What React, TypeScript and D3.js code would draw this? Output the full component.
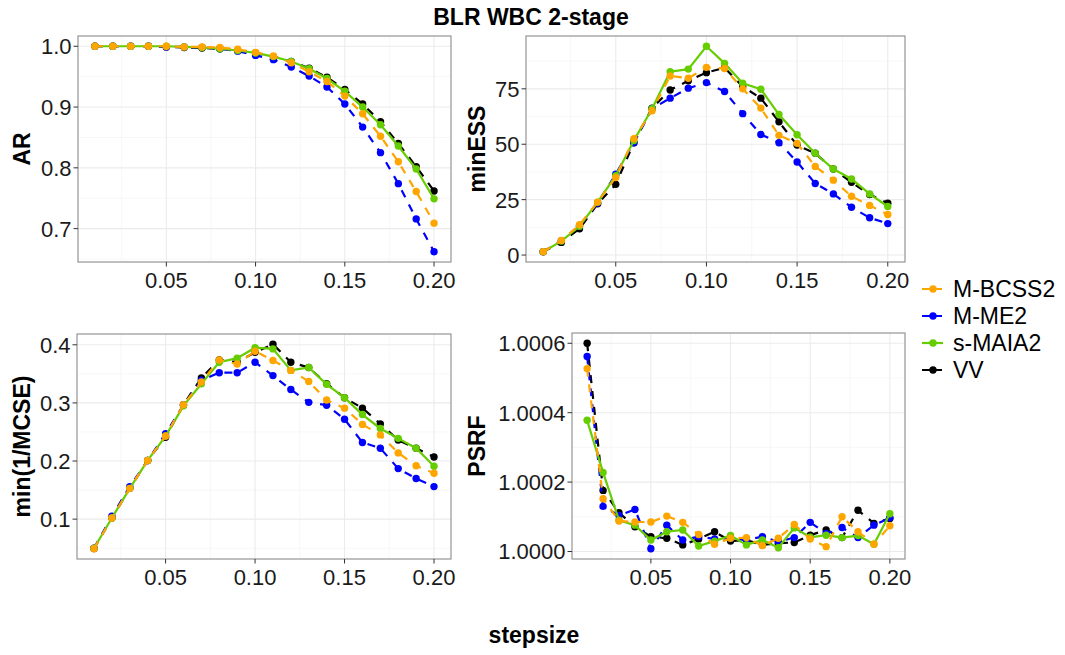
import React from 'react';
import * as d3 from 'd3';

// ---------- data ----------
const stepsize = [0.01, 0.02, 0.03, 0.04, 0.05, 0.06, 0.07, 0.08, 0.09, 0.10, 0.11, 0.12, 0.13, 0.14, 0.15, 0.16, 0.17, 0.18, 0.19, 0.20];

const methods = ['M-BCSS2', 'M-ME2', 's-MAIA2', 'VV'];
const methodColors = ['#FFA500', '#0000FF', '#66CD00', '#000000'];
const methodDashed = [true, true, false, true];
const drawOrder = [3, 1, 2, 0];

const arBCSS = [1.0, 1.0, 1.0, 1.0, 1.0, 0.999, 0.999, 0.998, 0.995, 0.990, 0.984, 0.973, 0.958, 0.942, 0.918, 0.889, 0.852, 0.810, 0.761, 0.709];
const arME = [1.0, 1.0, 1.0, 1.0, 0.999, 0.999, 0.998, 0.996, 0.992, 0.985, 0.978, 0.966, 0.951, 0.933, 0.905, 0.867, 0.825, 0.774, 0.716, 0.662];
const arMAIA = [1.0, 1.0, 1.0, 1.0, 1.0, 0.999, 0.998, 0.996, 0.993, 0.989, 0.983, 0.975, 0.963, 0.947, 0.926, 0.900, 0.871, 0.836, 0.798, 0.749];
const arVV = [1.0, 1.0, 1.0, 1.0, 0.999, 0.998, 0.997, 0.996, 0.993, 0.989, 0.983, 0.975, 0.964, 0.949, 0.929, 0.905, 0.876, 0.840, 0.802, 0.762];

const essBCSS = [1.5, 6.6, 13.7, 23.9, 35.0, 52.5, 65.1, 80.8, 79.8, 84.7, 84.2, 75.0, 66.3, 54.0, 50.4, 40.0, 33.8, 26.5, 22.4, 18.3];
const essME = [1.5, 6.5, 13.0, 23.5, 36.5, 50.7, 66.0, 70.8, 75.3, 77.8, 73.8, 63.8, 54.4, 50.7, 42.0, 32.3, 27.6, 21.6, 16.8, 14.2];
const essMAIA = [1.5, 6.3, 13.0, 23.9, 35.8, 51.7, 66.0, 82.7, 83.9, 94.2, 86.5, 77.5, 74.8, 63.4, 54.3, 45.9, 38.8, 34.3, 27.6, 21.9];
const essVV = [1.5, 5.7, 11.9, 23.1, 31.9, 50.7, 66.3, 74.5, 78.6, 82.3, 84.5, 76.0, 70.8, 60.1, 49.6, 45.9, 38.8, 32.8, 27.3, 23.4];

const mcseBCSS = [0.049, 0.102, 0.153, 0.201, 0.243, 0.297, 0.336, 0.374, 0.367, 0.389, 0.373, 0.356, 0.337, 0.305, 0.291, 0.263, 0.245, 0.214, 0.192, 0.179];
const mcseME = [0.050, 0.105, 0.156, 0.201, 0.247, 0.296, 0.339, 0.352, 0.352, 0.370, 0.347, 0.323, 0.301, 0.296, 0.272, 0.232, 0.222, 0.187, 0.170, 0.156];
const mcseMAIA = [0.050, 0.102, 0.153, 0.201, 0.243, 0.295, 0.333, 0.370, 0.377, 0.395, 0.393, 0.356, 0.361, 0.332, 0.309, 0.280, 0.256, 0.239, 0.222, 0.191];
const mcseVV = [0.0495, 0.102, 0.153, 0.201, 0.241, 0.297, 0.343, 0.374, 0.370, 0.387, 0.401, 0.370, 0.361, 0.333, 0.309, 0.291, 0.264, 0.236, 0.222, 0.207];

const psrfBCSS = [1.000527, 1.000152, 1.000088, 1.000085, 1.000085, 1.000102, 1.000084, 1.000049, 1.000021, 1.000038, 1.000040, 1.000017, 1.000038, 1.000078, 1.000036, 1.000014, 1.000100, 1.000057, 1.000021, 1.000074];
const psrfME = [1.000562, 1.000130, 1.000104, 1.000121, 1.000008, 1.000076, 1.000033, 1.000043, 1.000036, 1.000038, 1.000033, 1.000043, 1.000028, 1.000040, 1.000084, 1.000052, 1.000069, 1.000040, 1.000076, 1.000097];
const psrfMAIA = [1.000378, 1.000228, 1.000090, 1.000076, 1.000033, 1.000057, 1.000062, 1.000016, 1.000030, 1.000046, 1.000019, 1.000033, 1.000011, 1.000068, 1.000041, 1.000047, 1.000040, 1.000046, 1.000021, 1.000109];
const psrfVV = [1.000600, 1.000176, 1.000112, 1.000071, 1.000043, 1.000038, 1.000019, 1.000036, 1.000057, 1.000030, 1.000033, 1.000019, 1.000024, 1.000026, 1.000047, 1.000062, 1.000040, 1.000119, 1.000081, 1.000095];

const xTicks = [0.05, 0.10, 0.15, 0.20];
const arTicks = [0.7, 0.8, 0.9, 1.0];
const essTicks = [0, 25, 50, 75];
const mcseTicks = [0.1, 0.2, 0.3, 0.4];
const psrfTicks = [1.0, 1.0002, 1.0004, 1.0006];

const chartTitle = 'BLR WBC 2-stage';
const xTitle = 'stepsize';

// ---------- helpers ----------
const FONT = "'Liberation Sans', Arial, Helvetica, sans-serif";

function expand(ext: number[]): number[] {
  const d = ext[1] - ext[0];
  return [ext[0] - 0.05 * d, ext[1] + 0.05 * d];
}

function minorBreaks(major: number[], domain: number[]): number[] {
  const step = major[1] - major[0];
  const out: number[] = [];
  const cand = [major[0] - step / 2, ...major.map((m) => m + step / 2)];
  cand.forEach((c) => {
    if (c >= domain[0] && c <= domain[1]) out.push(c);
  });
  return out;
}

type Box = { l: number; r: number; t: number; b: number };

function Panel(props: {
  box: Box;
  series: number[][];
  yTicks: number[];
  yFmt: (v: number) => string;
  ylab: string;
  ylabX: number;
}) {
  const { box, series, yTicks, yFmt, ylab, ylabX } = props;
  const xDom = expand(d3.extent(stepsize) as number[]);
  const x = d3.scaleLinear().domain(xDom).range([box.l, box.r]);
  const yDom = expand(d3.extent(series.flat()) as number[]);
  const y = d3.scaleLinear().domain(yDom).range([box.b, box.t]);
  const xMinor = minorBreaks(xTicks, xDom);
  const yMinor = minorBreaks(yTicks, yDom);
  const line = d3
    .line<number>()
    .x((_, i) => x(stepsize[i]))
    .y((d) => y(d));
  const xf = d3.format('.2f');
  const cy = (box.t + box.b) / 2;
  return (
    <g>
      <rect x={box.l} y={box.t} width={box.r - box.l} height={box.b - box.t} fill="#fff" />
      {xMinor.map((v, i) => (
        <line key={'xm' + i} x1={x(v)} x2={x(v)} y1={box.t} y2={box.b} stroke="#F2F2F2" strokeWidth={0.6} />
      ))}
      {yMinor.map((v, i) => (
        <line key={'ym' + i} x1={box.l} x2={box.r} y1={y(v)} y2={y(v)} stroke="#F2F2F2" strokeWidth={0.6} />
      ))}
      {xTicks.map((v, i) => (
        <line key={'xg' + i} x1={x(v)} x2={x(v)} y1={box.t} y2={box.b} stroke="#EBEBEB" strokeWidth={1.1} />
      ))}
      {yTicks.map((v, i) => (
        <line key={'yg' + i} x1={box.l} x2={box.r} y1={y(v)} y2={y(v)} stroke="#EBEBEB" strokeWidth={1.1} />
      ))}
      {drawOrder.map((mi) => (
        <g key={'s' + mi}>
          <path
            d={line(series[mi]) || ''}
            fill="none"
            stroke={methodColors[mi]}
            strokeWidth={2.2}
            strokeDasharray={methodDashed[mi] ? '8 8' : undefined}
          />
          {series[mi].map((v, i) => (
            <circle key={i} cx={x(stepsize[i])} cy={y(v)} r={3.7} fill={methodColors[mi]} />
          ))}
        </g>
      ))}
      <rect x={box.l} y={box.t} width={box.r - box.l} height={box.b - box.t} fill="none" stroke="#8a8a8a" strokeWidth={1.1} />
      {xTicks.map((v, i) => (
        <g key={'xt' + i}>
          <line x1={x(v)} x2={x(v)} y1={box.b} y2={box.b + 4.5} stroke="#333" strokeWidth={1} />
          <text x={x(v)} y={box.b + 26} textAnchor="middle" fontSize={22} fill="#1a1a1a" fontFamily={FONT}>
            {xf(v)}
          </text>
        </g>
      ))}
      {yTicks.map((v, i) => (
        <g key={'yt' + i}>
          <line x1={box.l - 4.5} x2={box.l} y1={y(v)} y2={y(v)} stroke="#333" strokeWidth={1} />
          <text x={box.l - 6.5} y={y(v)} dy="0.36em" textAnchor="end" fontSize={22} fill="#1a1a1a" fontFamily={FONT}>
            {yFmt(v)}
          </text>
        </g>
      ))}
      <text
        transform={`translate(${ylabX},${cy}) rotate(-90)`}
        textAnchor="middle"
        fontSize={23}
        fontWeight="bold"
        fill="#000"
        fontFamily={FONT}
      >
        {ylab}
      </text>
    </g>
  );
}

export default function App() {
  const legendY = [289, 316, 343, 370];
  return (
    <svg width={1065} height={655} style={{ position: 'absolute', left: 0, top: 0, background: '#fff' }}>
      <rect x={0} y={0} width={1065} height={655} fill="#fff" />
      <text x={531} y={25} textAnchor="middle" fontSize={23} fontWeight="bold" fontFamily={FONT}>
        {chartTitle}
      </text>
      <Panel
        box={{ l: 78, r: 451, t: 36, b: 262 }}
        series={[arBCSS, arME, arMAIA, arVV]}
        yTicks={arTicks}
        yFmt={d3.format('.1f')}
        ylab="AR"
        ylabX={30}
      />
      <Panel
        box={{ l: 526, r: 905, t: 36, b: 262 }}
        series={[essBCSS, essME, essMAIA, essVV]}
        yTicks={essTicks}
        yFmt={d3.format('d')}
        ylab="minESS"
        ylabX={485}
      />
      <Panel
        box={{ l: 77, r: 451, t: 334, b: 559 }}
        series={[mcseBCSS, mcseME, mcseMAIA, mcseVV]}
        yTicks={mcseTicks}
        yFmt={d3.format('.1f')}
        ylab="min(1/MCSE)"
        ylabX={30}
      />
      <Panel
        box={{ l: 572, r: 905, t: 333, b: 559 }}
        series={[psrfBCSS, psrfME, psrfMAIA, psrfVV]}
        yTicks={psrfTicks}
        yFmt={d3.format('.4f')}
        ylab="PSRF"
        ylabX={485}
      />
      <text x={534} y={643} textAnchor="middle" fontSize={23} fontWeight="bold" fontFamily={FONT}>
        {xTitle}
      </text>
      {methods.map((m, i) => (
        <g key={m}>
          <line
            x1={922}
            x2={943}
            y1={legendY[i]}
            y2={legendY[i]}
            stroke={methodColors[i]}
            strokeWidth={2.2}
            strokeDasharray={methodDashed[i] ? '8 4' : undefined}
          />
          <circle cx={933} cy={legendY[i]} r={3.7} fill={methodColors[i]} />
          <text x={953} y={legendY[i]} dy="0.36em" fontSize={23} fontFamily={FONT} fill="#000">
            {m}
          </text>
        </g>
      ))}
    </svg>
  );
}
